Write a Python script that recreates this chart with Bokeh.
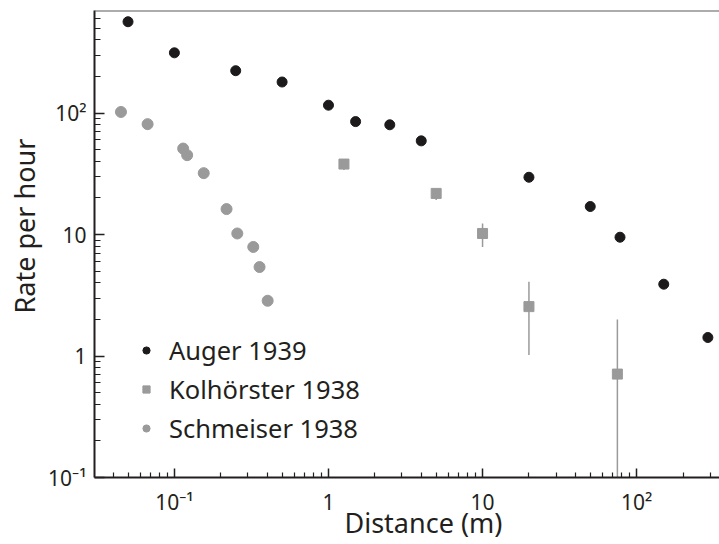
from bokeh.plotting import figure
from bokeh.models import Range1d, FixedTicker, Legend, LegendItem, Span, Title
from bokeh.embed import file_html
from bokeh.resources import INLINE

# ---- data ----
auger_x = [0.05, 0.1, 0.25, 0.5, 1.0, 1.5, 2.5, 4.0, 20, 50, 78, 150, 290]
auger_y = [564, 313, 223, 180, 116, 85, 80, 59, 29.6, 17, 9.5, 3.9, 1.42]

kol_x = [1.26, 5.0, 10, 20, 75]
kol_y = [38, 21.8, 10.2, 2.55, 0.71]
kol_lo = [34, 19.2, 7.9, 1.02, 0.01]
kol_hi = [41, 23.5, 12.3, 4.08, 2.0]

schm_x = [0.045, 0.067, 0.114, 0.121, 0.155, 0.218, 0.256, 0.325, 0.357, 0.403]
schm_y = [102, 81, 51, 45, 32, 16.2, 10.2, 7.9, 5.4, 2.85]

x_ticks = [0.1, 1, 10, 100]
x_tick_labels = ["10⁻¹", "1", "10", "10²"]
y_ticks = [0.1, 1, 10, 100]
y_tick_labels = ["10⁻¹", "1", "10", "10²"]

series_labels = ["Auger 1939", "Kolhörster 1938", "Schmeiser 1938"]
x_title = "Distance (m)"
y_title = "Rate per hour"

FONT = "Noto Sans"
BLACK = "#1c1a1b"
GREY = "#9a9a9a"
AXIS = "#231f20"
TEXT = "#231f20"

p = figure(width=719, height=544, x_axis_type="log", y_axis_type="log",
           x_range=Range1d(0.0303, 345), y_range=Range1d(0.1, 698),
           output_backend="svg", toolbar_location=None,
           min_border_left=93, min_border_right=0, min_border_top=10,
           min_border_bottom=67)
p.outline_line_color = None
p.grid.visible = False
p.background_fill_color = "white"
p.border_fill_color = "white"

def minors(lo_exp, hi_exp):
    out = []
    for e in range(lo_exp, hi_exp + 1):
        for m in range(2, 10):
            out.append(m * 10.0 ** e)
    return out

p.xaxis.ticker = FixedTicker(ticks=x_ticks, minor_ticks=minors(-2, 2))
p.yaxis.ticker = FixedTicker(ticks=y_ticks, minor_ticks=minors(-2, 2))
p.xaxis.major_label_overrides = {t: l for t, l in zip(x_ticks, x_tick_labels)}
p.yaxis.major_label_overrides = {t: l for t, l in zip(y_ticks, y_tick_labels)}

for ax in (p.xaxis, p.yaxis):
    ax.axis_line_color = AXIS
    ax.axis_line_width = 2
    ax.major_tick_line_color = AXIS
    ax.minor_tick_line_color = AXIS
    ax.major_tick_line_width = 1.5
    ax.minor_tick_line_width = 1.2
    ax.major_tick_out = 0
    ax.minor_tick_out = 0
    ax.major_label_text_font = FONT
    ax.major_label_text_font_size = "21px"
    ax.major_label_text_color = TEXT

p.xaxis.major_tick_in = 9
p.xaxis.minor_tick_in = 5
p.yaxis.major_tick_in = 10
p.yaxis.minor_tick_in = 6
p.xaxis.major_label_standoff = 10
p.yaxis.major_label_standoff = 8

# axis titles as side titles, so they can be placed off-centre like the original
p.add_layout(Title(text=y_title, align="left", offset=164, standoff=6,
                   text_font=FONT, text_font_size="27px", text_font_style="normal",
                   text_color=TEXT), "left")
p.add_layout(Title(text=x_title, align="left", offset=250, standoff=-30,
                   vertical_align="top",
                   text_font=FONT, text_font_size="27px", text_font_style="normal",
                   text_color=TEXT), "below")

# top spine
p.add_layout(Span(location=698, dimension="width", line_color="#5a5a5a", line_width=2))

# error bars
p.segment(x0=kol_x, y0=kol_lo, x1=kol_x, y1=kol_hi, line_color=GREY, line_width=1.5)

r_schm = p.scatter(schm_x, schm_y, marker="circle", size=11, fill_color=GREY, line_color=GREY)
r_kol = p.scatter(kol_x, kol_y, marker="square", size=10, fill_color=GREY, line_color=GREY)
r_aug = p.scatter(auger_x, auger_y, marker="circle", size=10, fill_color=BLACK, line_color=BLACK)

legend = Legend(items=[LegendItem(label=series_labels[0], renderers=[r_aug]),
                       LegendItem(label=series_labels[1], renderers=[r_kol]),
                       LegendItem(label=series_labels[2], renderers=[r_schm])],
                location=(43, 31), padding=0, margin=0, spacing=3,
                glyph_width=18, glyph_height=18, label_height=36,
                label_standoff=14, border_line_color=None,
                background_fill_alpha=0, label_text_font=FONT,
                label_text_font_size="25.5px", label_text_color=TEXT)
p.add_layout(legend)

open("out.html", "w").write(file_html(p, INLINE))
